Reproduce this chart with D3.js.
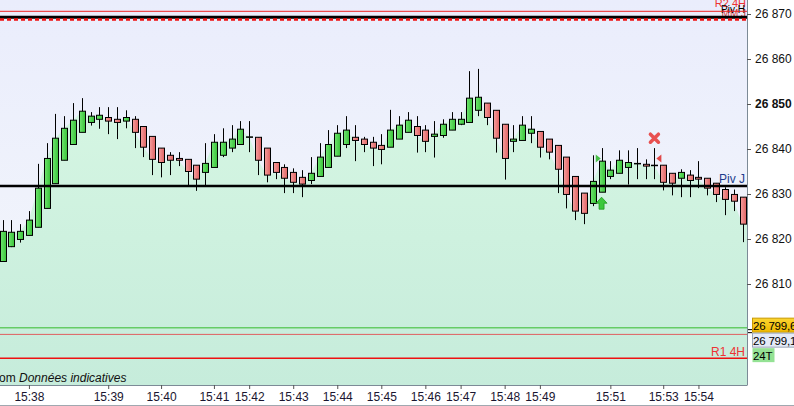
<!DOCTYPE html>
<html>
<head>
<meta charset="utf-8">
<script src="https://cdn.jsdelivr.net/npm/d3@7"></script>
<style>
  body { margin: 0; background: #fff; }
  svg { display: block; font-family: "Liberation Sans", Arial, sans-serif; }
</style>
</head>
<body>
<svg width="794" height="406"></svg>
<script>
// candle data (24 ticks per bar)
const opens = [26815.0, 26818.3, 26819.9, 26820.8, 26822.6, 26826.8, 26832.3, 26837.5, 26841.0, 26843.7,
  26845.9, 26846.6, 26847.0, 26846.6, 26846.2, 26846.6, 26845.0, 26842.8, 26840.2, 26838.6,
  26837.9, 26837.7, 26836.4, 26834.8, 26835.9, 26838.6, 26840.2, 26841.0, 26842.7, 26842.6,
  26840.2, 26837.0, 26835.9, 26834.8, 26833.7, 26833.0, 26833.9, 26835.9, 26838.4, 26841.0,
  26842.6, 26842.2, 26841.5, 26840.8, 26840.4, 26842.2, 26843.7, 26845.0, 26844.2, 26842.8,
  26843.0, 26844.2, 26845.5, 26845.9, 26848.6, 26850.2, 26848.6, 26845.5, 26841.7, 26841.9,
  26843.5, 26843.9, 26842.2, 26840.8, 26838.2, 26833.9, 26830.2, 26827.9, 26830.4, 26833.9,
  26834.6, 26835.9, 26836.8, 26836.6, 26836.4, 26836.4, 26834.6, 26833.5, 26834.2, 26833.7,
  26833.5, 26832.4, 26831.0, 26829.9, 26829.3];
const highs = [26824.2, 26824.2, 26823.3, 26826.2, 26836.7, 26841.3, 26847.8, 26847.3, 26850.2, 26851.3,
  26848.2, 26849.3, 26849.3, 26849.3, 26848.6, 26847.3, 26845.0, 26842.8, 26840.2, 26839.3,
  26839.3, 26837.7, 26836.4, 26841.3, 26843.3, 26844.6, 26845.3, 26846.2, 26846.2, 26842.6,
  26840.2, 26837.0, 26836.6, 26835.7, 26835.3, 26838.2, 26841.3, 26844.2, 26845.3, 26847.3,
  26845.3, 26842.7, 26842.7, 26843.3, 26848.7, 26847.3, 26848.2, 26847.3, 26845.3, 26846.2,
  26846.6, 26848.2, 26848.2, 26857.3, 26857.8, 26850.2, 26848.6, 26845.5, 26845.3, 26847.3,
  26847.3, 26843.9, 26842.2, 26840.8, 26838.2, 26833.9, 26830.2, 26838.6, 26840.2, 26837.3,
  26839.7, 26839.7, 26840.2, 26837.7, 26840.2, 26836.4, 26834.6, 26835.5, 26835.3, 26837.3,
  26833.5, 26832.4, 26831.5, 26831.0, 26829.3];
const lows = [26814.9, 26818.2, 26819.2, 26820.8, 26822.6, 26826.8, 26832.3, 26837.5, 26841.0, 26843.7,
  26845.2, 26844.5, 26843.3, 26842.2, 26844.6, 26840.2, 26838.2, 26834.2, 26833.7, 26834.2,
  26836.2, 26831.9, 26830.7, 26831.9, 26835.9, 26838.2, 26839.3, 26841.0, 26839.3, 26834.2,
  26832.6, 26833.3, 26830.2, 26830.2, 26829.3, 26832.2, 26833.9, 26835.9, 26838.4, 26840.2,
  26837.3, 26839.3, 26836.2, 26836.6, 26840.4, 26842.2, 26843.7, 26839.2, 26839.3, 26838.1,
  26842.5, 26844.2, 26845.3, 26845.9, 26847.3, 26845.3, 26839.2, 26833.2, 26839.3, 26841.9,
  26841.3, 26838.1, 26837.7, 26830.2, 26826.8, 26824.2, 26823.3, 26827.3, 26830.4, 26833.3,
  26834.6, 26832.1, 26833.3, 26833.3, 26833.3, 26830.8, 26829.7, 26829.3, 26829.3, 26831.3,
  26829.7, 26828.2, 26825.3, 26826.2, 26819.3];
const closes = [26821.7, 26821.5, 26821.7, 26824.2, 26831.3, 26837.9, 26842.4, 26844.6, 26846.4, 26848.4,
  26847.3, 26847.5, 26846.2, 26845.9, 26847.0, 26843.7, 26840.4, 26837.7, 26837.0, 26837.5,
  26837.5, 26835.0, 26833.3, 26836.8, 26841.5, 26841.5, 26842.2, 26844.4, 26842.7, 26837.5,
  26834.2, 26834.8, 26833.5, 26832.6, 26832.2, 26834.6, 26838.2, 26841.0, 26843.5, 26844.2,
  26841.9, 26841.0, 26840.2, 26839.9, 26844.2, 26845.3, 26846.4, 26843.0, 26841.7, 26843.3,
  26845.5, 26846.6, 26846.6, 26851.3, 26851.5, 26847.0, 26842.4, 26837.9, 26842.2, 26845.3,
  26844.4, 26840.4, 26839.3, 26835.5, 26829.9, 26826.2, 26825.7, 26832.8, 26837.3, 26835.3,
  26837.5, 26837.0, 26836.8, 26836.2, 26836.4, 26832.6, 26832.4, 26834.8, 26833.0, 26833.3,
  26831.3, 26829.9, 26828.8, 26828.4, 26823.3];

// x axis: bar index where each minute starts
const timeTickIdx = [3, 12, 18, 24, 28, 33, 38, 43, 48, 52, 57, 61, 69, 75, 79];
const timeTickLabels = ["15:38", "15:39", "15:40", "15:41", "15:42", "15:43", "15:44", "15:45",
  "15:46", "15:47", "15:48", "15:49", "15:51", "15:53", "15:54"];
const priceTicks = [26870, 26860, 26850, 26840, 26830, 26820, 26810];

// levels
const pivJ = 26831.8;
const r2_4h = 26870.6;
const pivH = 26869.3;
const mmJ = 26868.8;
const lastLine = 26800.3;
const prevLine = 26798.8;
const r1_4h = 26793.5;
const sideLabels = ["26 799,6", "26 799,1", "24T"];

const svg = d3.select("svg");
const width = +svg.attr("width");
const height = +svg.attr("height");
const plot = { left: 0, right: 747, top: 0, bottom: 385 };

const x = d3.scaleLinear().domain([0, 84]).range([2.5, 742.5]);
const y = d3.scaleLinear().domain([26870, 26810]).range([14, 284]);

const defs = svg.append("defs");
const bgGrad = defs.append("linearGradient").attr("id", "bg").attr("x1", 0).attr("y1", 0).attr("x2", 0).attr("y2", 1);
bgGrad.append("stop").attr("offset", "0%").attr("stop-color", "#eaedfc");
bgGrad.append("stop").attr("offset", "100%").attr("stop-color", "#f4f7fb");
const areaGrad = defs.append("linearGradient").attr("id", "areaG")
  .attr("gradientUnits", "userSpaceOnUse").attr("x1", 0).attr("y1", 90).attr("x2", 0).attr("y2", 385);
areaGrad.append("stop").attr("offset", "0%").attr("stop-color", "#d6f6e3");
areaGrad.append("stop").attr("offset", "100%").attr("stop-color", "#c6ecdb");
const upGrad = defs.append("linearGradient").attr("id", "up").attr("x1", 0).attr("x2", 1);
upGrad.append("stop").attr("offset", "0%").attr("stop-color", "#70e670");
upGrad.append("stop").attr("offset", "100%").attr("stop-color", "#38c238");
const dnGrad = defs.append("linearGradient").attr("id", "dn").attr("x1", 0).attr("x2", 1);
dnGrad.append("stop").attr("offset", "0%").attr("stop-color", "#f6a0a0");
dnGrad.append("stop").attr("offset", "100%").attr("stop-color", "#e06262");
const yelGrad = defs.append("linearGradient").attr("id", "yel").attr("x1", 0).attr("y1", 0).attr("x2", 0).attr("y2", 1);
yelGrad.append("stop").attr("offset", "0%").attr("stop-color", "#fbd531");
yelGrad.append("stop").attr("offset", "100%").attr("stop-color", "#efb800");
defs.append("clipPath").attr("id", "clip").append("rect")
  .attr("x", plot.left).attr("y", plot.top)
  .attr("width", plot.right - plot.left).attr("height", plot.bottom - plot.top);

// background
svg.append("rect").attr("x", plot.left).attr("y", plot.top)
  .attr("width", plot.right - plot.left).attr("height", plot.bottom - plot.top)
  .attr("fill", "url(#bg)");

const g = svg.append("g").attr("clip-path", "url(#clip)");

// area under closes, stretched to both plot edges
const idx = d3.range(closes.length);
const areaIdx = [0].concat(idx, [84]);
g.append("path")
  .datum(areaIdx)
  .attr("fill", "url(#areaG)")
  .attr("d", d3.area()
    .x((i, k) => (k === 0 ? plot.left : k === areaIdx.length - 1 ? plot.right : x(i)))
    .y0(plot.bottom)
    .y1((i) => y(closes[i])));

// bottom note
const note = g.append("text").attr("x", -1).attr("y", 382).attr("font-size", 12).attr("fill", "#111");
note.append("tspan").text("om ");
note.append("tspan").attr("font-style", "italic").text("Données indicatives");

// candles
const bw = 6;
g.selectAll(".wick")
  .data(idx)
  .enter()
  .append("line")
  .attr("class", "wick")
  .attr("x1", (i) => Math.round(x(i)) + 0.5)
  .attr("x2", (i) => Math.round(x(i)) + 0.5)
  .attr("y1", (i) => y(highs[i]))
  .attr("y2", (i) => y(lows[i]))
  .attr("stroke", "#000")
  .attr("stroke-width", 1);

g.selectAll(".body")
  .data(idx)
  .enter()
  .append("rect")
  .attr("class", "body")
  .attr("x", (i) => Math.round(x(i)) - bw / 2 + 0.5)
  .attr("width", bw)
  .attr("y", (i) => y(Math.max(opens[i], closes[i])))
  .attr("height", (i) => Math.max(0.5, Math.abs(y(opens[i]) - y(closes[i]))))
  .attr("fill", (i) => (closes[i] >= opens[i] ? "url(#up)" : "url(#dn)"))
  .attr("stroke", "#000")
  .attr("stroke-width", 1);

// horizontal levels
function level(price, color, w, dash) {
  g.append("line")
    .attr("x1", plot.left).attr("x2", plot.right)
    .attr("y1", y(price)).attr("y2", y(price))
    .attr("stroke", color).attr("stroke-width", w)
    .attr("stroke-dasharray", dash || null);
}

// top labels (partly hidden by the lines, as in the source)
g.append("text").attr("x", 746).attr("y", 7).attr("text-anchor", "end").attr("font-size", 11).attr("fill", "#ee3333").text("R2 4H");
g.append("text").attr("x", 746).attr("y", 17).attr("text-anchor", "end").attr("font-size", 10).attr("fill", "#d04040").text("MM J");
g.append("text").attr("x", 745).attr("y", 13).attr("text-anchor", "end").attr("font-size", 10).attr("fill", "#000").text("Piv H");

level(r2_4h, "#ee2222", 1);
level(pivH, "#000", 3);
level(mmJ, "#ee1111", 2.5, "4,3");
level(pivJ, "#000", 2.5);
level(lastLine, "#66cc66", 1.5);
level(prevLine, "#e06060", 1);
level(r1_4h, "#ee1111", 1.5);

g.append("text").attr("x", 745).attr("y", 183).attr("text-anchor", "end").attr("font-size", 12).attr("fill", "#1c3c8c").text("Piv J");
g.append("text").attr("x", 745).attr("y", y(r1_4h) - 2).attr("text-anchor", "end").attr("font-size", 12).attr("fill", "#ee3333").text("R1 4H");

// signal markers
const buyIdx = 68;
const sellIdx = 74;
const ax = x(buyIdx), ay = y(lows[buyIdx]) + 5;
g.append("path")
  .attr("d", `M${ax},${ay} l5.5,6 h-3 v6 h-5 v-6 h-3 z`)
  .attr("fill", "#3cc83c").attr("stroke", "#1f9a1f").attr("stroke-width", 0.8);
const tx = x(buyIdx - 1) + 3, ty = y(26837.9);
g.append("path").attr("d", `M${tx},${ty - 4} l5,4 l-5,4 z`).attr("fill", "#48c048");
const rx = x(sellIdx) + 7, ry = y(26837.9);
g.append("path").attr("d", `M${rx},${ry - 4} l-5,4 l5,4 z`).attr("fill", "#e04848");
const cx = x(sellIdx), cy = y(26842.4);
g.append("path")
  .attr("d", `M${cx - 4},${cy - 4} L${cx + 4},${cy + 4} M${cx + 4},${cy - 4} L${cx - 4},${cy + 4}`)
  .attr("stroke", "#e85050").attr("stroke-width", 3.5).attr("stroke-linecap", "round");

// axes
const fmt = (d) => d3.format(",")(d).replace(",", " ");
const yAxis = svg.append("g")
  .attr("transform", `translate(${plot.right},0)`)
  .call(d3.axisRight(y).tickValues(priceTicks).tickSize(4).tickPadding(4).tickFormat(fmt));
yAxis.select(".domain").attr("d", `M0.5,${plot.top}V${plot.bottom}`).attr("stroke", "#7c8a96");
yAxis.selectAll(".tick line").attr("stroke", "#555");
yAxis.selectAll(".tick text")
  .attr("font-size", 12).attr("fill", "#111").attr("font-family", "Liberation Sans, Arial, sans-serif")
  .attr("font-weight", (d) => (d === 26850 ? "bold" : "normal"));

const xAxis = svg.append("g")
  .attr("transform", `translate(0,${plot.bottom})`)
  .call(d3.axisBottom(x).tickValues(timeTickIdx).tickSize(4).tickPadding(3)
    .tickFormat((d, i) => timeTickLabels[i]));
xAxis.select(".domain").attr("d", `M${plot.left},0.5H${plot.right + 0.5}`).attr("stroke", "#7c8a96");
xAxis.selectAll(".tick line").attr("stroke", "#555");
xAxis.selectAll(".tick text").attr("font-size", 12).attr("fill", "#1a1530")
  .attr("font-family", "Liberation Sans, Arial, sans-serif");

svg.append("line").attr("x1", 0).attr("x2", width).attr("y1", height - 0.5).attr("y2", height - 0.5)
  .attr("stroke", "#a0a8b0");

// right side price labels
const boxTop = y(lastLine) - 10;
const boxes = [
  { label: sideLabels[0], fill: "url(#yel)", stroke: "#c89a00", w: 48 },
  { label: sideLabels[1], fill: "#e4eaf7", stroke: "#9aa6b8", w: 48 },
  { label: sideLabels[2], fill: "#94e294", stroke: "none", w: 22 }
];
const bh = 14;
boxes.forEach((b, k) => {
  const by = boxTop + k * (bh + 1);
  svg.append("rect").attr("x", 752.5).attr("y", by + 0.5).attr("width", b.w).attr("height", bh)
    .attr("fill", b.fill).attr("stroke", b.stroke);
  svg.append("text").attr("x", 753).attr("y", by + 12).attr("font-size", 11.5)
    .attr("letter-spacing", -0.2).attr("fill", "#000").text(b.label);
});
svg.append("path")
  .attr("d", `M748,${y(lastLine) + 2}h4M748,${y(lastLine) + 5}h4`)
  .attr("stroke", "#000");
</script>
</body>
</html>
